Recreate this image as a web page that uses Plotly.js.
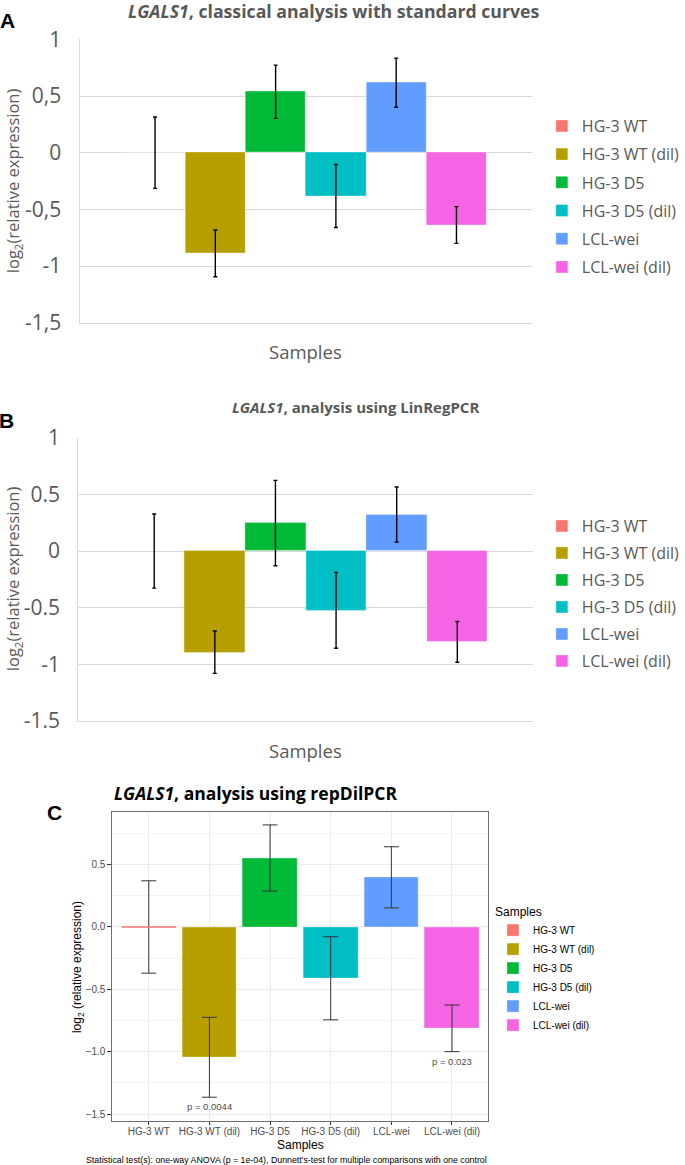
<!DOCTYPE html>
<html>
<head>
<meta charset="utf-8">
<script src="https://cdn.plot.ly/plotly-3.0.1.min.js"></script>
<style>html,body{margin:0;padding:0;background:#fff;}#chart{width:685px;height:1165px;}</style>
</head>
<body>
<div id="chart"></div>
<script>
// ---------- data ----------
const samples = ["HG-3 WT", "HG-3 WT (dil)", "HG-3 D5", "HG-3 D5 (dil)", "LCL-wei", "LCL-wei (dil)"];
const sampleColors = ["#F8766D", "#B79F00", "#00BA38", "#00BFC4", "#619CFF", "#F564E3"];

// Panel A: classical analysis with standard curves
const valuesA = [0, -0.888, 0.538, -0.382, 0.618, -0.638];
const errorsA = [0.315, 0.206, 0.235, 0.278, 0.217, 0.162];
// Panel B: LinRegPCR
const valuesB = [0, -0.893, 0.247, -0.523, 0.323, -0.802];
const errorsB = [0.327, 0.187, 0.377, 0.335, 0.243, 0.180];
// Panel C: repDilPCR
const valuesC = [0, -1.044, 0.553, -0.411, 0.398, -0.812];
const errorsC = [0.370, 0.320, 0.265, 0.333, 0.245, 0.187];
const pLabelsC = ["", "p = 0.0044", "", "", "", "p = 0.023"];

const tickValsAB = [1, 0.5, 0, -0.5, -1, -1.5];
const tickTextA = ["1", "0,5", "0", "-0,5", "-1", "-1,5"];
const tickTextB = ["1", "0.5", "0", "-0.5", "-1", "-1.5"];

const titleA = "<i>LGALS1</i>, classical analysis with standard curves";
const titleB = "<i>LGALS1</i>, analysis using LinRegPCR";
const titleC = "<i>LGALS1</i>, analysis using repDilPCR";
const captionC = "Statistical test(s): one-way ANOVA (p = 1e-04), Dunnett's-test for multiple comparisons with one control";

// ---------- helpers ----------
const W = 685, H = 1165;
const px = v => v / W;
const py = v => 1 - v / H;
const EXCEL = "Open Sans, Liberation Sans, sans-serif";
const GG = "Liberation Sans, Arial, sans-serif";
const GREY = "#595959";

const traces = [];
function addPanel(vals, errs, xa, ya, legendId, barWidth, errStyle, lineW) {
  samples.forEach((s, i) => {
    traces.push({
      type: "bar",
      x: [s], y: [vals[i]],
      xaxis: xa, yaxis: ya,
      name: s,
      legend: legendId,
      legendgroup: legendId + i,
      width: barWidth,
      marker: {color: sampleColors[i], line: {width: lineW, color: "rgba(255,255,255,0.6)"}},
      error_y: Object.assign({type: "data", array: [errs[i]], visible: true}, errStyle),
      hoverinfo: "name+y"
    });
  });
}
addPanel(valuesA, errorsA, "x", "y", "legend", 1, {color: "#000", thickness: 1.4, width: 2}, 0.6);
addPanel(valuesB, errorsB, "x2", "y2", "legend2", 1, {color: "#000", thickness: 1.4, width: 2}, 0.6);
addPanel(valuesC, errorsC, "x3", "y3", "legend3", 0.9, {color: "#333", thickness: 1, width: 7.5}, 0.5);

const xCommonAB = {
  type: "category", categoryarray: samples, categoryorder: "array",
  range: [-1.253, 6.253], showticklabels: false, showgrid: false,
  zeroline: false, showline: true, linecolor: "#d9d9d9", linewidth: 1,
  ticks: "", fixedrange: true
};
const yCommonAB = {
  range: [-1.5, 1.0008], tickmode: "array", tickvals: tickValsAB,
  showgrid: true, gridcolor: "#d9d9d9", gridwidth: 1,
  zeroline: false, showline: true, linecolor: "#d9d9d9", linewidth: 1,
  ticks: "", ticklabelstandoff: 13,
  tickfont: {family: EXCEL, size: 21, color: GREY}, fixedrange: true
};

const annotations = [];
function ann(o) { annotations.push(Object.assign({showarrow: false, xref: "paper", yref: "paper"}, o)); }

// panel letters
ann({text: "<b>A</b>", x: px(7.5), y: py(20.5), xanchor: "center", yanchor: "middle", font: {family: "Liberation Sans, Arial", size: 21, color: "#000"}});
ann({text: "<b>B</b>", x: px(6.5), y: py(420.5), xanchor: "center", yanchor: "middle", font: {family: "Liberation Sans, Arial", size: 21, color: "#000"}});
ann({text: "<b>C</b>", x: px(56), y: py(812.5), xanchor: "center", yanchor: "middle", font: {family: "Liberation Sans, Arial", size: 21, color: "#000"}});

// titles
ann({text: "<b>" + titleA + "</b>", x: px(341), y: py(11), xanchor: "center", yanchor: "middle", font: {family: EXCEL, size: 17.7, color: GREY}});
ann({text: "<b>" + titleB + "</b>", x: px(363.7), y: py(407), xanchor: "center", yanchor: "middle", font: {family: EXCEL, size: 15, color: GREY}});
ann({text: "<b>" + titleC + "</b>", x: px(114.5), y: py(793), xanchor: "left", yanchor: "middle", font: {family: EXCEL, size: 17.5, color: "#000"}});

// axis titles A/B
ann({text: "log<sub>2</sub>(relative expression)", x: px(13.5), y: py(181), textangle: -90, xanchor: "center", yanchor: "middle", font: {family: EXCEL, size: 16.5, color: GREY}});
ann({text: "log<sub>2</sub>(relative expression)", x: px(13.5), y: py(579), textangle: -90, xanchor: "center", yanchor: "middle", font: {family: EXCEL, size: 16.5, color: GREY}});
ann({text: "Samples", x: px(312.5), y: py(351.7), xanchor: "center", yanchor: "middle", font: {family: EXCEL, size: 18.5, color: GREY}});
ann({text: "Samples", x: px(312.6), y: py(750), xanchor: "center", yanchor: "middle", font: {family: EXCEL, size: 18.5, color: GREY}});

// axis titles C
ann({text: "log<sub>2</sub> (relative expression)", x: px(80), y: py(966.8), textangle: -90, xanchor: "center", yanchor: "middle", font: {family: GG, size: 12, color: "#000"}});
ann({text: "Samples", x: px(307), y: py(1145), xanchor: "center", yanchor: "middle", font: {family: GG, size: 12, color: "#000"}});
ann({text: captionC, x: px(292.7), y: py(1159.5), xanchor: "center", yanchor: "middle", font: {family: GG, size: 8.8, color: "#000"}});

// p-values under error bars (from data)
pLabelsC.forEach((t, i) => {
  if (!t) return;
  annotations.push({text: t, xref: "x3", yref: "y3", x: samples[i], y: valuesC[i] - errorsC[i],
    yanchor: "top", xanchor: "center", yshift: -2, showarrow: false,
    font: {family: GG, size: 9.5, color: "#4d4d4d"}});
});

// zero-height reference bar drawn as a line at its value
const shapes = [{
  type: "line", xref: "x3", yref: "y3",
  x0: 0 - 0.45, x1: 0 + 0.45, y0: valuesC[0], y1: valuesC[0],
  line: {color: sampleColors[0], width: 1.5}, layer: "above"
}];

const layout = {
  width: W, height: H,
  margin: {l: 0, r: 0, t: 0, b: 0},
  paper_bgcolor: "#fff", plot_bgcolor: "#fff",
  barmode: "overlay", bargap: 0,
  showlegend: true,
  xaxis: Object.assign({}, xCommonAB, {domain: [px(81.3), px(543.9)], anchor: "y"}),
  yaxis: Object.assign({}, yCommonAB, {domain: [py(322.7), py(39.3)], anchor: "x", ticktext: tickTextA}),
  xaxis2: Object.assign({}, xCommonAB, {domain: [px(80), px(545.2)], anchor: "y2"}),
  yaxis2: Object.assign({}, yCommonAB, {domain: [py(721), py(437.7)], anchor: "x2", ticktext: tickTextB}),
  xaxis3: {
    type: "category", categoryarray: samples, categoryorder: "array", anchor: "y3",
    domain: [px(114.9), px(499.3)], range: [-0.6, 5.6],
    showgrid: true, gridcolor: "#ebebeb", gridwidth: 1,
    zeroline: false, showline: true, mirror: true, linecolor: "#6e6e6e", linewidth: 1,
    ticks: "outside", ticklen: 3, tickcolor: "#333", tickwidth: 1, ticklabelstandoff: -2,
    tickfont: {family: GG, size: 10, color: "#4d4d4d"}, fixedrange: true
  },
  yaxis3: {
    anchor: "x3", domain: [py(1121.3), py(812.3)], range: [-1.557, 0.919],
    tick0: 0, dtick: 0.5, tickformat: ".1f",
    showgrid: true, gridcolor: "#ebebeb", gridwidth: 1,
    minor: {dtick: 0.25, tick0: 0, showgrid: true, gridcolor: "#f4f4f4", gridwidth: 0.6},
    zeroline: false, showline: true, mirror: true, linecolor: "#6e6e6e", linewidth: 1,
    ticks: "outside", ticklen: 4, tickcolor: "#333", tickwidth: 1,
    tickfont: {family: GG, size: 10, color: "#4d4d4d"}, fixedrange: true
  },
  legend: {x: px(554), xanchor: "left", y: py(109), yanchor: "top", traceorder: "grouped", tracegroupgap: 4.4,
    font: {family: EXCEL, size: 16, color: GREY}, bgcolor: "rgba(0,0,0,0)"},
  legend2: {x: px(554), xanchor: "left", y: py(509), yanchor: "top", traceorder: "grouped", tracegroupgap: 3.2,
    font: {family: EXCEL, size: 16, color: GREY}, bgcolor: "rgba(0,0,0,0)"},
  legend3: {x: px(504), xanchor: "left", y: py(900), yanchor: "top", traceorder: "grouped", tracegroupgap: 0,
    title: {text: "Samples", font: {family: GG, size: 12, color: "#000"}},
    font: {family: GG, size: 10, color: "#000"}, bgcolor: "rgba(0,0,0,0)"},
  annotations: annotations,
  shapes: shapes
};

Plotly.newPlot("chart", traces, layout, {displayModeBar: false, staticPlot: false});
</script>
</body>
</html>
